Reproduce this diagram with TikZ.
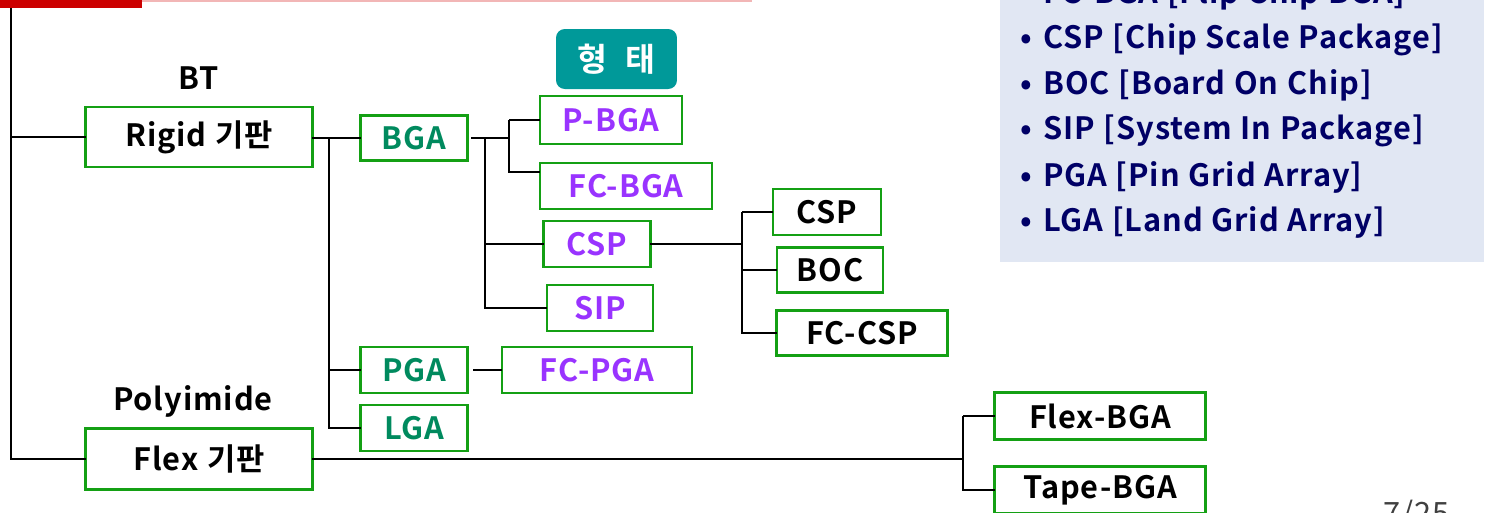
\documentclass[tikz,border=0pt]{standalone}
\usepackage{fontspec}
\setmainfont{Noto Sans CJK KR}[BoldFont={* Bold},LetterSpace=3,WordSpace=1.1]
\usetikzlibrary{positioning}
\definecolor{boxgreen}{RGB}{20,160,20}
\definecolor{typegreen}{RGB}{0,138,94}
\definecolor{typepurple}{RGB}{153,51,255}
\definecolor{navy}{RGB}{0,0,102}
\definecolor{panel}{RGB}{225,231,243}
\definecolor{badge}{RGB}{0,153,153}
\definecolor{barred}{RGB}{204,0,0}
\definecolor{barpink}{RGB}{242,182,182}
\tikzset{
    box/.style={draw=boxgreen,line width=1.2pt,inner sep=0pt,outer sep=0pt,
        font=\fontsize{17.5}{20}\selectfont\bfseries},
    lab/.style={font=\fontsize{17.5}{20}\selectfont\bfseries},
    link/.style={line width=1.15pt},
    note/.style={anchor=west,text=navy,inner sep=0pt,font=\fontsize{17.5}{20}\selectfont\bfseries}
}
\begin{document}
\begin{tikzpicture}[x=0.02cm,y=-0.02cm]
    \useasboundingbox (0,0) rectangle (1490,512);
    \fill[barpink] (142,0) rectangle (752,1.5);
    \fill[barred] (0,0) rectangle (142,8);
    \fill[panel] (1000,0) rectangle (1484,262);
    % substrates
    \node[lab] (bt) at (199,78) {BT};
    \node[box,minimum width=4.54cm,minimum height=1.2cm] (rigid) at (199,137) {Rigid 기판};
    \node[lab] (pi) at (193,401) {Polyimide};
    \node[box,minimum width=4.54cm,minimum height=1.22cm] (flex) at (199,459) {Flex 기판};
    % types
    \node[box,text=typegreen,minimum width=2.14cm,minimum height=0.9cm] (bga) at (414,138) {BGA};
    \node[box,text=typegreen,minimum width=2.14cm,minimum height=0.92cm] (pga) at (414,370) {PGA};
    \node[box,text=typegreen,minimum width=2.14cm,minimum height=0.92cm] (lga) at (414,428) {LGA};
    \node[box,text=typepurple,minimum width=2.84cm,minimum height=0.96cm] (pbga) at (611,120) {P-BGA};
    \node[box,text=typepurple,minimum width=3.44cm,minimum height=0.92cm] (fcbga) at (626,186) {FC-BGA};
    \node[box,text=typepurple,minimum width=2.14cm,minimum height=0.92cm] (csp) at (597,244) {CSP};
    \node[box,text=typepurple,minimum width=2.12cm,minimum height=0.92cm] (sip) at (600,308) {SIP};
    \node[box,text=typepurple,minimum width=3.8cm,minimum height=0.92cm] (fcpga) at (597,370) {FC-PGA};
    \node[box,minimum width=2.16cm,minimum height=0.92cm] (csp2) at (827,212) {CSP};
    \node[box,minimum width=2.12cm,minimum height=0.9cm] (boc) at (830,270) {BOC};
    \node[box,minimum width=3.42cm,minimum height=0.9cm] (fccsp) at (862,333) {FC-CSP};
    \node[box,minimum width=4.22cm,minimum height=0.94cm] (flexbga) at (1100,416) {Flex-BGA};
    \node[box,minimum width=4.22cm,minimum height=0.94cm] (tapebga) at (1100,490) {Tape-BGA};
    \node[fill=badge,rounded corners=5pt,text=white,minimum width=2.42cm,minimum height=1.2cm,
        inner sep=0pt,font=\fontsize{18.5}{20}\selectfont\bfseries] (form) at (616.5,59) {형\ \ 태};
    % tree lines
    \coordinate (root) at (11,8);
    \coordinate (tr) at (329,138);
    \coordinate (tb) at (485,138);
    \coordinate (tp) at (509,138);
    \coordinate (tc) at (742,244);
    \coordinate (tf) at (963,459);
    \draw[link] (root) |- (flex.west);
    \draw[link] (root |- rigid.west) -- (rigid.west);
    \draw[link] (rigid.east |- bga.west) -- (bga.west);
    \draw[link] (tr) |- (lga.west);
    \draw[link] (tr |- pga.west) -- (pga.west);
    \draw[link] (bga.east) ++(4,0) -- (tp);
    \draw[link] (tb) |- (sip.west);
    \draw[link] (tb |- csp.west) -- (csp.west);
    \draw[link] (tp |- pbga.west) -- (pbga.west);
    \draw[link] (tp |- pbga.west) |- (509,172) -- (fcbga.west |- 0,172);
    \draw[link] (pga.east) ++(6,0) -- (fcpga.west);
    \draw[link] (csp.east) -- (tc);
    \draw[link] (tc |- csp2.west) -- (csp2.west);
    \draw[link] (tc |- csp2.west) |- (fccsp.west);
    \draw[link] (tc |- boc.west) -- (boc.west);
    \draw[link] (flex.east) -- (tf);
    \draw[link] (tf |- flexbga.west) -- (flexbga.west);
    \draw[link] (tf |- flexbga.west) |- (tapebga.west);
    % abbreviations
    \node[note] (n1) at (1020,-6) {•\hspace{6.5pt}FC-BGA [Flip Chip BGA]};
    \node[note] (n2) at (1020,40) {•\hspace{6.5pt}CSP [Chip Scale Package]};
    \node[note] (n3) at (1020,85) {•\hspace{6.5pt}BOC [Board On Chip]};
    \node[note] (n4) at (1020,131) {•\hspace{6.5pt}SIP [System In Package]};
    \node[note] (n5) at (1020,177) {•\hspace{6.5pt}PGA [Pin Grid Array]};
    \node[note] (n6) at (1020,222) {•\hspace{6.5pt}LGA [Land Grid Array]};
    \node[anchor=north west,inner sep=0pt,text=black!75,font=\fontsize{17.5}{20}\selectfont] (page) at (1383,500) {7/25};
\end{tikzpicture}
\end{document}
